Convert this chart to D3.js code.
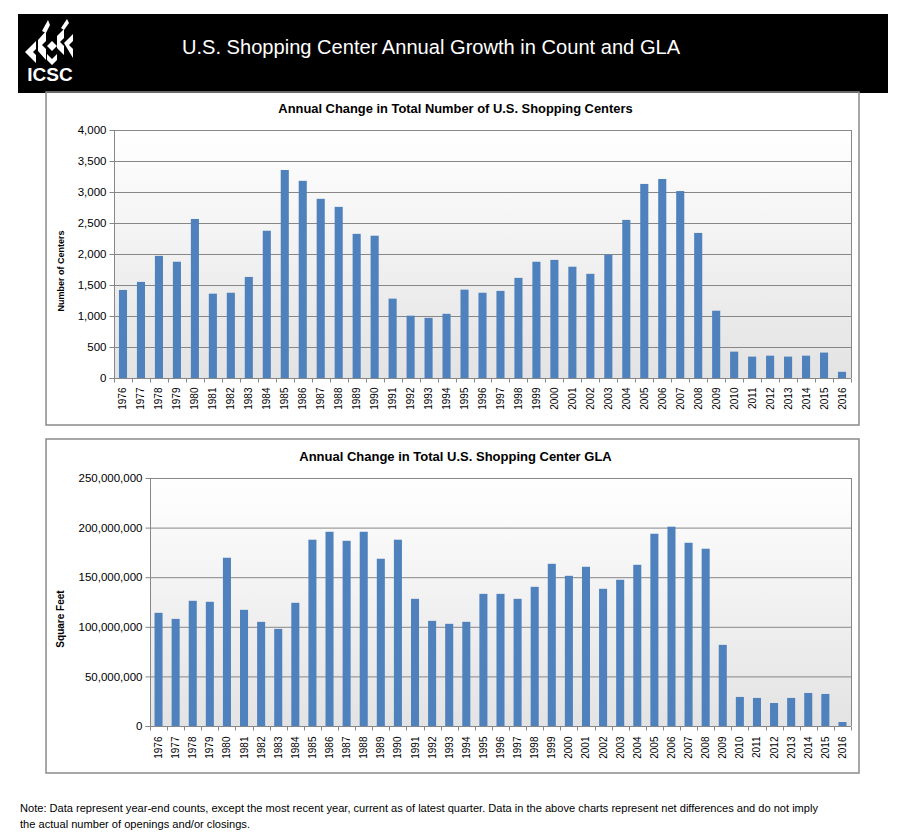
<!DOCTYPE html>
<html>
<head>
<meta charset="utf-8">
<script src="https://cdn.jsdelivr.net/npm/d3@7"></script>
<style>
  html, body { margin: 0; padding: 0; background: #ffffff; }
  svg { display: block; font-family: "Liberation Sans", Arial, sans-serif; }
</style>
</head>
<body>
<svg id="chart" width="904" height="835"></svg>
<script>
// ---------- DATA ----------
const years = ["1976","1977","1978","1979","1980","1981","1982","1983","1984","1985",
  "1986","1987","1988","1989","1990","1991","1992","1993","1994","1995",
  "1996","1997","1998","1999","2000","2001","2002","2003","2004","2005",
  "2006","2007","2008","2009","2010","2011","2012","2013","2014","2015","2016"];

const centerCounts = [1420,1550,1970,1875,2565,1360,1375,1630,2375,3355,
  3180,2890,2760,2325,2295,1280,1005,970,1035,1425,
  1375,1405,1615,1875,1905,1795,1680,1990,2550,3130,
  3210,3015,2340,1085,425,345,360,345,360,410,100];

const glaSqFt = [114100000,108000000,126200000,125200000,169600000,117100000,105000000,97900000,124200000,187800000,
  195800000,186700000,195800000,168600000,187800000,128200000,106000000,103000000,105000000,133200000,
  133200000,128200000,140300000,163500000,151400000,160500000,138300000,147400000,162500000,193800000,
  200900000,184700000,178700000,81800000,29300000,28300000,23200000,28300000,33300000,32300000,4000000];

const countTicks = [0,500,1000,1500,2000,2500,3000,3500,4000];
const glaTicks = [0,50000000,100000000,150000000,200000000,250000000];

const mainTitle = "U.S. Shopping Center Annual Growth in Count and GLA";
const countTitle = "Annual Change in Total Number of U.S. Shopping Centers";
const glaTitle = "Annual Change in Total U.S. Shopping Center GLA";
const countAxisTitle = "Number of Centers";
const glaAxisTitle = "Square Feet";
const noteLines = [
  "Note: Data represent year-end counts, except the most recent year, current as of latest quarter. Data in the above charts represent net differences and do not imply",
  "the actual number of openings and/or closings."
];

// ---------- DRAW ----------
const svg = d3.select("#chart");
const BAR = "#4f81bd";
const GRID = "#878787";
const BORDER = "#8a8a8a";

const defs = svg.append("defs");
const grad = defs.append("linearGradient").attr("id", "plotbg")
  .attr("x1", 0).attr("y1", 0).attr("x2", 0).attr("y2", 1);
grad.append("stop").attr("offset", "0%").attr("stop-color", "#ffffff");
grad.append("stop").attr("offset", "100%").attr("stop-color", "#e3e3e3");

// header
svg.append("rect").attr("x", 18).attr("y", 14).attr("width", 870).attr("height", 79).attr("fill", "#000");
svg.append("text").attr("x", 431).attr("y", 54).attr("text-anchor", "middle")
  .attr("fill", "#fff").attr("font-size", 20.1).text(mainTitle);

// logo (approximate ICSC mark)
const logo = svg.append("g").attr("fill", "#fff");
const logoPolys = [
  // left chevron
  [[25,52],[36,41],[36,49],[33,52],[36,55],[36,63]],
  // tall left-middle chevron
  [[38,40],[46,31],[46,41],[42,45],[46,49],[46,60],[38,51]],
  // top spike
  [[42,31],[48,20],[50,25],[46,33]],
  // centre diamond
  [[47,46],[52,41],[57,46],[52,51]],
  // right-middle chevron
  [[57,36],[64,29],[64,38],[60,42],[64,46],[64,55],[57,48]],
  // top-right spike
  [[61,28],[67,19],[69,23],[64,30]],
  // far right chevron
  [[64,43],[73,34],[73,41],[69,45],[73,49],[73,58]],
  // lower centre
  [[47,54],[52,59],[57,54],[57,60],[52,65],[47,60]]
];
logoPolys.forEach(p => logo.append("polygon").attr("points", p.map(d => d.join(",")).join(" ")));
svg.append("text").attr("x", 50).attr("y", 81).attr("text-anchor", "middle")
  .attr("fill", "#fff").attr("font-size", 19).attr("font-weight", "bold")
  .attr("font-family", "'Liberation Sans', Arial, sans-serif").text("ICSC");

function panel(cfg) {
  const g = svg.append("g");
  // panel frame
  g.append("rect").attr("x", cfg.box[0]).attr("y", cfg.box[1])
    .attr("width", cfg.box[2]).attr("height", cfg.box[3])
    .attr("fill", "none").attr("stroke", BORDER).attr("stroke-width", 1.5);
  // title
  g.append("text").attr("x", 455.5).attr("y", cfg.titleY).attr("text-anchor", "middle")
    .attr("font-size", cfg.titleSize).attr("font-weight", "bold").attr("fill", "#000").text(cfg.title);

  const x = d3.scaleBand().domain(years).range([cfg.left, cfg.right]).paddingInner(cfg.pad).paddingOuter(cfg.pad / 2);
  const y = d3.scaleLinear().domain([0, cfg.max]).range([cfg.bottom, cfg.top]);

  // plot background
  g.append("rect").attr("x", cfg.left).attr("y", cfg.top)
    .attr("width", cfg.right - cfg.left).attr("height", cfg.bottom - cfg.top)
    .attr("fill", "url(#plotbg)");

  // gridlines
  g.append("g").selectAll("line").data(cfg.ticks.slice(1)).join("line")
    .attr("x1", cfg.left).attr("x2", cfg.right)
    .attr("y1", d => y(d) + 0.5).attr("y2", d => y(d) + 0.5)
    .attr("stroke", GRID).attr("stroke-width", 1);
  // right border
  g.append("line").attr("x1", cfg.right + 0.5).attr("x2", cfg.right + 0.5)
    .attr("y1", cfg.top).attr("y2", cfg.bottom).attr("stroke", GRID);

  // bars
  g.append("g").selectAll("rect").data(cfg.values).join("rect")
    .attr("x", (d, i) => x(years[i]))
    .attr("width", x.bandwidth())
    .attr("y", d => y(d))
    .attr("height", d => cfg.bottom - y(d))
    .attr("fill", BAR);

  // y axis
  const yAxis = d3.axisLeft(y).tickValues(cfg.ticks).tickFormat(d3.format(",")).tickSize(5).tickPadding(3);
  const ya = g.append("g").attr("transform", `translate(${cfg.left + 0.5},0)`).call(yAxis);
  ya.select(".domain").attr("stroke", GRID).attr("d", `M-5,${cfg.bottom + 0.5}H0V${cfg.top}`);
  ya.selectAll(".tick line").attr("stroke", GRID);
  ya.selectAll(".tick").attr("transform", d => `translate(0,${y(d) + 0.5})`);
  ya.selectAll("text").attr("font-size", 11.5).attr("fill", "#000")
    .attr("font-family", "'Liberation Sans', Arial, sans-serif");

  // x axis
  const xa = g.append("g").attr("transform", `translate(0,${cfg.bottom + 0.5})`);
  xa.append("line").attr("x1", cfg.left).attr("x2", cfg.right).attr("stroke", GRID);
  const step = x.step();
  xa.selectAll("line.tk").data(years.concat(["end"])).join("line").attr("class", "tk")
    .attr("x1", (d, i) => Math.round(cfg.left + i * step) + 0.5)
    .attr("x2", (d, i) => Math.round(cfg.left + i * step) + 0.5)
    .attr("y1", 0).attr("y2", 4).attr("stroke", GRID);
  xa.selectAll("text").data(years).join("text")
    .attr("transform", d => `translate(${x(d) + x.bandwidth() / 2},${cfg.labelOff}) rotate(-90)`)
    .attr("text-anchor", "end").attr("dy", "0.35em")
    .attr("font-size", 10).attr("fill", "#000").text(d => d);

  // axis title
  g.append("text").attr("transform", `translate(${cfg.axTitleX},${cfg.axTitleY}) rotate(-90)`)
    .attr("text-anchor", "middle").attr("dy", "0.35em")
    .attr("font-size", cfg.axTitleSize).attr("font-weight", "bold").attr("fill", "#000").text(cfg.axTitle);
}

panel({
  box: [46, 92, 813, 333], title: countTitle, titleY: 113, titleSize: 12.9,
  left: 114, right: 851, top: 130, bottom: 378, pad: 0.55,
  max: 4000, ticks: countTicks, values: centerCounts, labelOff: 9,
  axTitle: countAxisTitle, axTitleX: 60.5, axTitleY: 271, axTitleSize: 9
});

panel({
  box: [46, 439, 813, 334], title: glaTitle, titleY: 461, titleSize: 13,
  left: 150, right: 851, top: 478, bottom: 726, pad: 0.53,
  max: 250000000, ticks: glaTicks, values: glaSqFt, labelOff: 10,
  axTitle: glaAxisTitle, axTitleX: 60.5, axTitleY: 619, axTitleSize: 10
});

// note
const note = svg.append("g").attr("font-size", 10.5).attr("fill", "#000");
note.append("text").attr("x", 20).attr("y", 812).attr("textLength", 798)
  .attr("lengthAdjust", "spacingAndGlyphs").text(noteLines[0]);
note.append("text").attr("x", 20).attr("y", 828).attr("textLength", 230)
  .attr("lengthAdjust", "spacingAndGlyphs").text(noteLines[1]);
</script>
</body>
</html>
